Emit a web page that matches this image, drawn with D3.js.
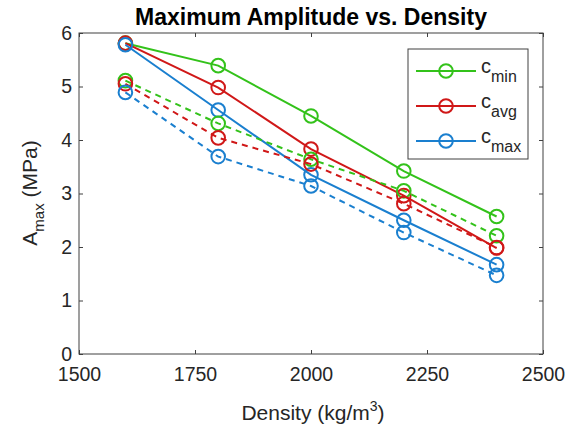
<!DOCTYPE html>
<html>
<head>
<meta charset="utf-8">
<script src="https://cdn.jsdelivr.net/npm/d3@7"></script>
<style>
  body { margin: 0; background: #fff; }
  svg { font-family: "Liberation Sans", Arial, sans-serif; }
</style>
</head>
<body>
<svg id="chart" width="579" height="433"></svg>
<script>
// data
var densities = [1600, 1800, 2000, 2200, 2400]
var cminSolid = [5.81, 5.39, 4.45, 3.42, 2.57]
var cavgSolid = [5.81, 4.98, 3.83, 2.96, 1.98]
var cmaxSolid = [5.78, 4.56, 3.35, 2.50, 1.67]
var cminDashed = [5.11, 4.31, 3.64, 3.05, 2.21]
var cavgDashed = [5.05, 4.04, 3.55, 2.81, 1.99]
var cmaxDashed = [4.89, 3.69, 3.14, 2.27, 1.47]
var xTicks = [1500, 1750, 2000, 2250, 2500]
var yTicks = [0, 1, 2, 3, 4, 5, 6]

var green = '#33c21a', red = '#d01818', blue = '#1a7fcf'

var series = [
    {vals: cminSolid, color: green, dash: null},
    {vals: cavgSolid, color: red, dash: null},
    {vals: cmaxSolid, color: blue, dash: null},
    {vals: cminDashed, color: green, dash: '6,5'},
    {vals: cavgDashed, color: red, dash: '6,5'},
    {vals: cmaxDashed, color: blue, dash: '6,5'}
]

var svg = d3.select('#chart')
var pLeft = 79, pRight = 543, pTop = 33, pBottom = 354

var x = d3.scaleLinear().domain([1500, 2500]).range([pLeft, pRight])
var y = d3.scaleLinear().domain([0, 6]).range([pBottom, pTop])

// box
svg.append('rect')
    .attr('x', pLeft).attr('y', pTop)
    .attr('width', pRight - pLeft).attr('height', pBottom - pTop)
    .attr('fill', 'none').attr('stroke', '#404040').attr('stroke-width', 1)

// axes with inward ticks, labels outside
svg.append('g').attr('transform', 'translate(0,' + pBottom + ')')
    .call(d3.axisBottom(x).tickValues(xTicks).tickFormat(d3.format('d')).tickSizeInner(-4).tickSizeOuter(0).tickPadding(13))
svg.append('g').attr('transform', 'translate(0,' + pTop + ')')
    .call(d3.axisTop(x).tickValues(xTicks).tickSizeInner(-4).tickSizeOuter(0).tickFormat(''))
svg.append('g').attr('transform', 'translate(' + pLeft + ',0)')
    .call(d3.axisLeft(y).tickValues(yTicks).tickFormat(d3.format('d')).tickSizeInner(-4).tickSizeOuter(0).tickPadding(7))
svg.append('g').attr('transform', 'translate(' + pRight + ',0)')
    .call(d3.axisRight(y).tickValues(yTicks).tickSizeInner(-4).tickSizeOuter(0).tickFormat(''))

svg.selectAll('.domain').remove()
svg.selectAll('.tick line').attr('stroke', '#404040')
svg.selectAll('.tick text')
    .attr('font-size', '19.5px')
    .attr('fill', '#262626')
    .attr('font-family', '"Liberation Sans", Arial, sans-serif')

var line = d3.line()
    .x(function(d, i) { return x(densities[i]) })
    .y(function(d) { return y(d) })

series.forEach(function(s) {
    svg.append('path')
        .attr('d', line(s.vals))
        .attr('fill', 'none')
        .attr('stroke', s.color)
        .attr('stroke-width', 2)
        .attr('stroke-dasharray', s.dash)
    svg.selectAll(null)
        .data(s.vals)
        .enter()
        .append('circle')
        .attr('cx', function(d, i) { return x(densities[i]) })
        .attr('cy', function(d) { return y(d) })
        .attr('r', 6.8)
        .attr('fill', 'none')
        .attr('stroke', s.color)
        .attr('stroke-width', 2)
})

// title
svg.append('text')
    .attr('x', 311)
    .attr('y', 25)
    .attr('text-anchor', 'middle')
    .attr('font-size', '23px')
    .attr('font-weight', 'bold')
    .attr('fill', '#000')
    .text('Maximum Amplitude vs. Density')

// x label
var xl = svg.append('text')
    .attr('x', 313)
    .attr('y', 420)
    .attr('text-anchor', 'middle')
    .attr('font-size', '21px')
    .attr('fill', '#262626')
xl.append('tspan').text('Density (kg/m')
xl.append('tspan').attr('font-size', '14px').attr('dy', -9).text('3')
xl.append('tspan').attr('dy', 9).text(')')

// y label
var yl = svg.append('text')
    .attr('transform', 'translate(37,193) rotate(-90)')
    .attr('text-anchor', 'middle')
    .attr('font-size', '21px')
    .attr('fill', '#262626')
yl.append('tspan').text('A')
yl.append('tspan').attr('font-size', '15px').attr('dy', 7).text('max')
yl.append('tspan').attr('dy', -7).text(' (MPa)')

// legend
var legend = svg.append('g')
legend.append('rect')
    .attr('x', 408).attr('y', 49)
    .attr('width', 120).attr('height', 110)
    .attr('fill', '#fff').attr('stroke', '#404040').attr('stroke-width', 1)

var legendItems = [
    {name: 'min', color: green},
    {name: 'avg', color: red},
    {name: 'max', color: blue}
]
legendItems.forEach(function(d, i) {
    var ly = 71 + i * 35
    legend.append('line')
        .attr('x1', 416).attr('x2', 476)
        .attr('y1', ly).attr('y2', ly)
        .attr('stroke', d.color).attr('stroke-width', 2)
    legend.append('circle')
        .attr('cx', 446).attr('cy', ly).attr('r', 6.8)
        .attr('fill', 'none').attr('stroke', d.color).attr('stroke-width', 2)
    var t = legend.append('text')
        .attr('x', 481).attr('y', ly + 2)
        .attr('font-size', '20px')
        .attr('fill', '#262626')
    t.append('tspan').text('c')
    t.append('tspan').attr('font-size', '16px').attr('dy', 9).text(d.name)
})
</script>
</body>
</html>
